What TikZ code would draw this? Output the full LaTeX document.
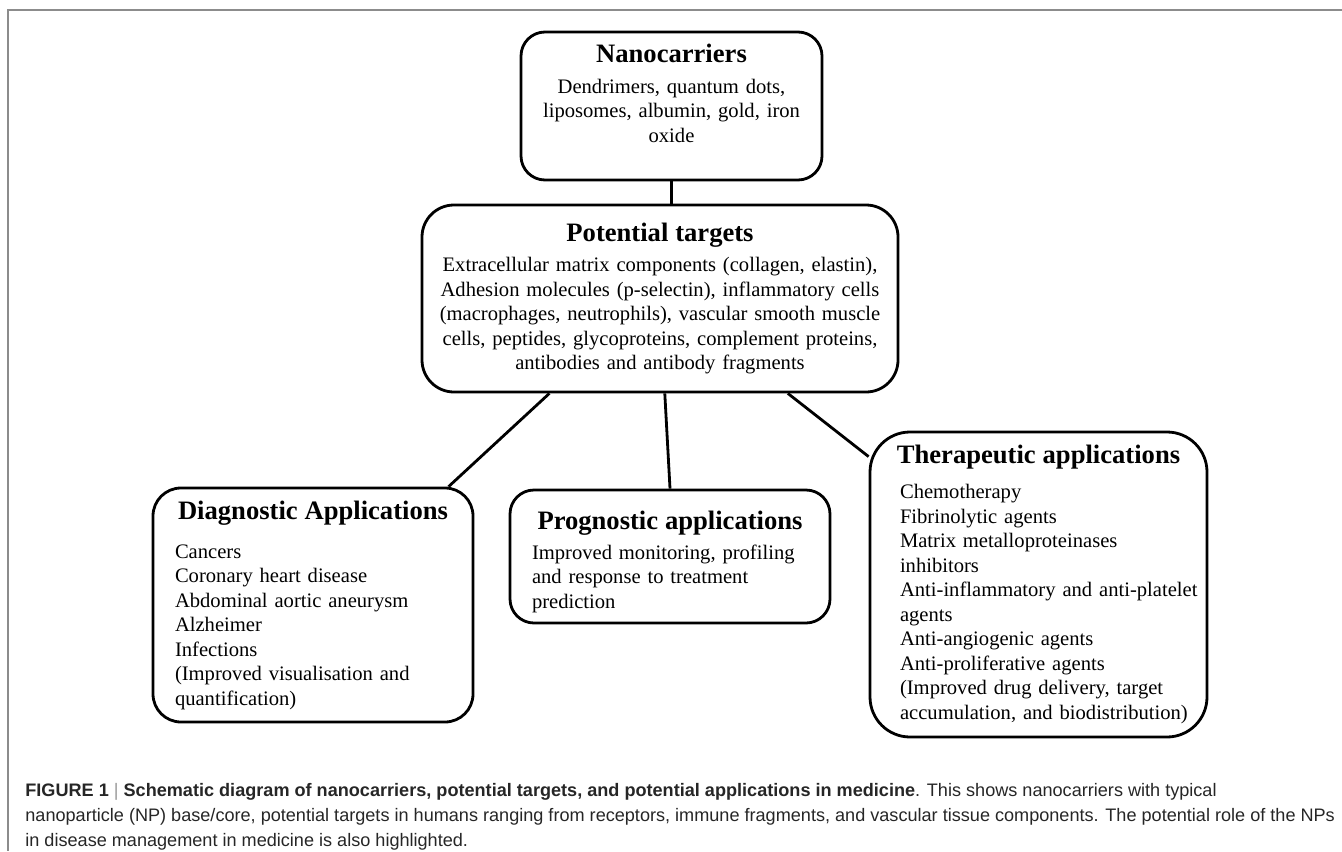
\documentclass[tikz,border=0pt]{standalone}
\usepackage{fontspec}
\setmainfont{Liberation Serif}
\newfontfamily\capfont{Liberation Sans}
\usetikzlibrary{calc}

\newcommand{\headfont}{\fontsize{13.3}{16}\selectfont\bfseries}
\newcommand{\bodyfont}{\fontsize{10.3}{12.25}\selectfont}
\newcommand{\boxhead}[2][4pt]{\makebox[\hsize][c]{\headfont #2}\\[#1]}

\begin{document}
\begin{tikzpicture}[x=0.5pt, y=-0.5pt,
  panel/.style={draw, line width=1.4pt, font=\bodyfont, inner ysep=0pt,
    execute at begin node={\hyphenpenalty=10000\exhyphenpenalty=10000}},
  link/.style={line width=1.4pt}]
\useasboundingbox (0,0) rectangle (1342,851);
\draw[black!45, line width=0.8pt] (1342,10) -- (8,10) -- (8,851);

\node[panel, rounded corners=12pt, align=center, text width=130pt, inner xsep=10.25pt,
  minimum height=74pt] (nano) at (671.5,106) {\boxhead[3.25pt]{Nanocarriers}
Dendrimers, quantum dots,\\ liposomes, albumin, gold, iron\\ oxide\rule[-13pt]{0pt}{13pt}};
\node[panel, rounded corners=16pt, align=center, text width=224pt, inner xsep=7pt,
  minimum height=93.5pt] (pt) at (660,298.5) {\boxhead[2.75pt]{Potential targets}
Extracellular matrix components (collagen, elastin),\\
Adhesion molecules (p-selectin), inflammatory cells\\
(macrophages, neutrophils), vascular smooth muscle\\
cells, peptides, glycoproteins, complement proteins,\\
antibodies and antibody fragments};
\node[panel, rounded corners=14pt, align=left, text width=138pt, inner xsep=11pt,
  minimum height=117pt] (diag) at (313,605) {\boxhead[7.25pt]{Diagnostic Applications}
Cancers\\ Coronary heart disease\\ Abdominal aortic aneurysm\\ Alzheimer\\ Infections\\
(Improved visualisation and\\ quantification)};
\node[panel, rounded corners=12pt, align=left, text width=138pt, inner xsep=11pt,
  minimum height=66.5pt] (prog) at (670,556.5) {\rule{0pt}{14.5pt}\boxhead[2.5pt]{Prognostic applications}
Improved monitoring, profiling\\ and response to treatment\\ prediction};
\node[panel, rounded corners=20pt, align=left, text width=138.5pt, inner xsep=15pt,
  minimum height=152.5pt] (ther) at (1038.5,584.5) {\boxhead[5.25pt]{Therapeutic applications}
Chemotherapy\\ Fibrinolytic agents\\ Matrix metalloproteinases\\ inhibitors\\
\mbox{Anti-inflammatory and anti-platelet}\\ agents\\ Anti-angiogenic agents\\
Anti-proliferative agents\\ (Improved drug delivery, target\\
\mbox{accumulation, and biodistribution)}};

\path[draw,link] (nano.south) -- (nano.south |- pt.north);
\path[draw,link] ($(pt.south west)!0.269!(pt.south east)$) -- ($(diag.north west)!0.92!(diag.north east)$);
\path[draw,link] ($(pt.south west)!0.51!(pt.south east)$) -- (prog.north);
\path[draw,link] ($(pt.south west)!0.767!(pt.south east)$) -- ([yshift=-13pt]ther.north west);

\node[anchor=north west, inner sep=0pt, align=left, text=black!85,
  font=\capfont\fontsize{9.05}{12.5}\selectfont] (caption) at (25,783)
  {\textbf{FIGURE 1} \textcolor{black!40}{|} \textbf{Schematic diagram of nanocarriers, potential targets, and potential applications in medicine}. This shows nanocarriers with typical\\
nanoparticle (NP) base/core, potential targets in humans ranging from receptors, immune fragments, and vascular tissue components. The potential role of the NPs\\
in disease management in medicine is also highlighted.};
\end{tikzpicture}
\end{document}
